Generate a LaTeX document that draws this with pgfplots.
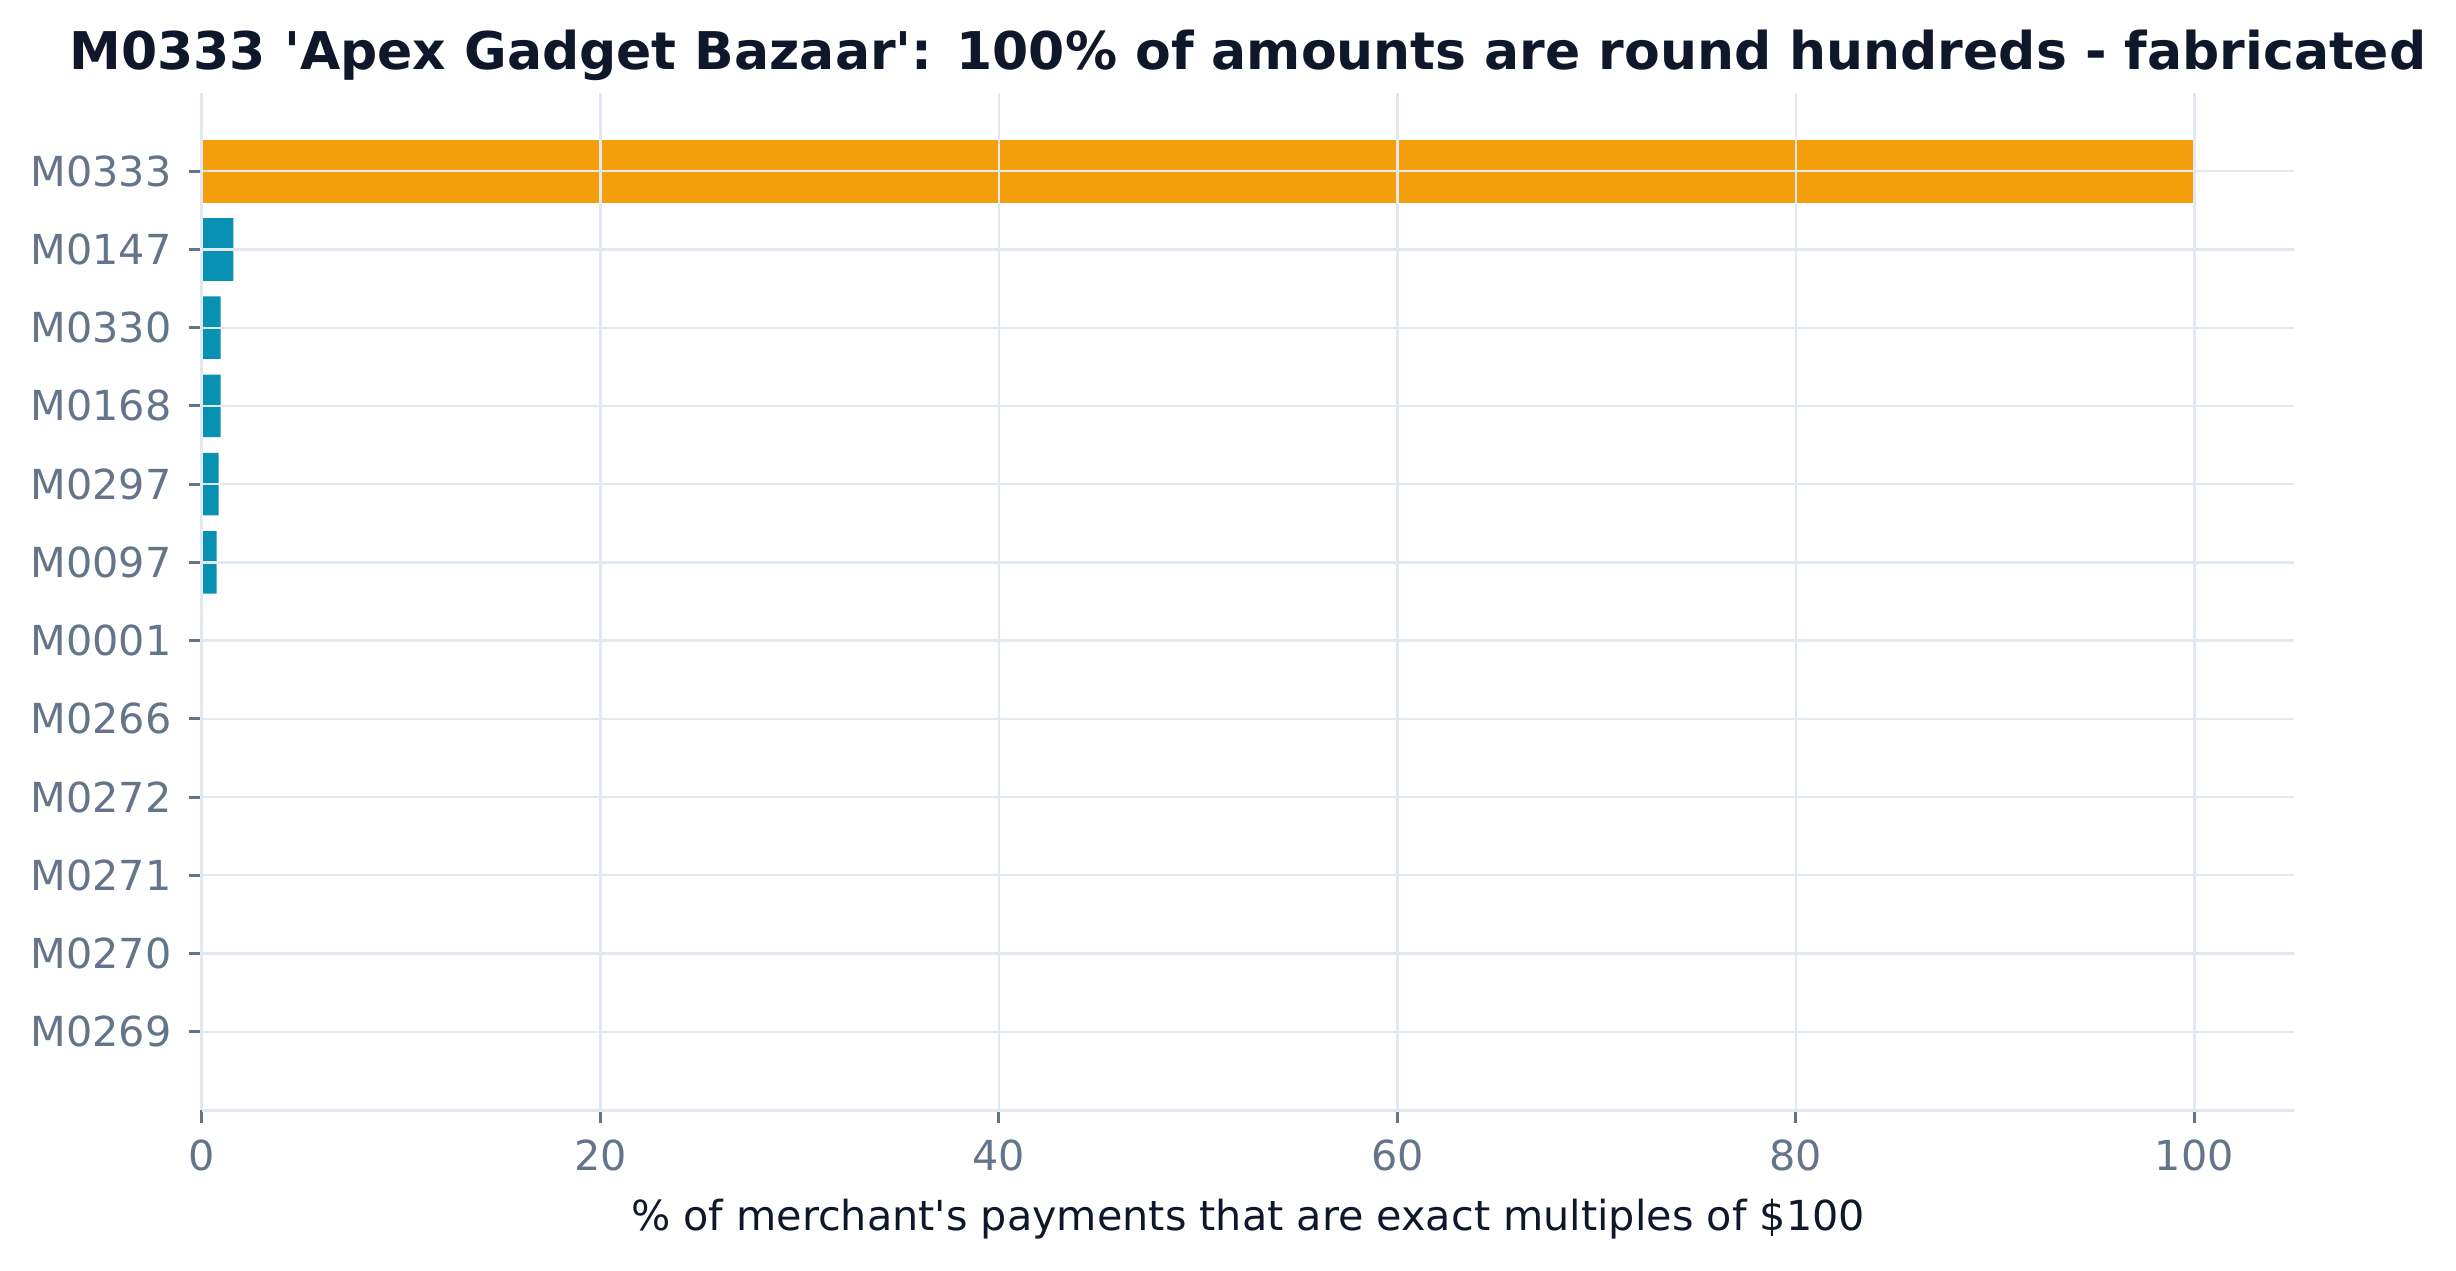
\documentclass[border=0pt]{standalone}
\usepackage{fontspec}
\setmainfont{DejaVu Sans}[Ligatures=TeXOff]
\usepackage{pgfplots}
\pgfplotsset{compat=1.18}

\definecolor{barorange}{HTML}{F59E0B}
\definecolor{barteal}{HTML}{0891B2}
\definecolor{ticktext}{HTML}{64748B}
\definecolor{darktext}{HTML}{0F172A}
\definecolor{gridline}{HTML}{E2E8F0}

\begin{document}
\begin{tikzpicture}
\path[use as bounding box] (-60.6pt,-48pt) rectangle (676.2pt,333pt);
\begin{axis}[
  at={(0,0)}, anchor=south west,
  scale only axis,
  width=627.6pt, height=305.1pt,
  xmin=0, xmax=105,
  ymin=-1, ymax=12,
  xtick={0,20,40,60,80,100},
  ytick={0,1,2,3,4,5,6,7,8,9,10,11},
  yticklabels={M0269,M0270,M0271,M0272,M0266,M0001,M0097,M0297,M0168,M0330,M0147,M0333},
  axis lines=left,
  axis line style={-, draw=gridline, line width=0.9pt},
  tick align=outside,
  major tick length=4pt,
  minor tick num=0,
  tick style={draw=ticktext, line width=0.9pt},
  grid=major,
  major grid style={draw=gridline, line width=0.7pt},
  axis on top,
  /pgf/number format/assume math mode=true,
  tick label style={font=\fontsize{12.4}{15}\selectfont, text=ticktext, inner sep=0pt},
  xticklabel style={anchor=base, yshift=-14.1pt},
  yticklabel style={anchor=east, xshift=-5pt},
  title={M0333 'Apex Gadget Bazaar': 100\% of amounts are round hundreds - fabricated},
  title style={at={(0.5,1)}, anchor=base, yshift=1pt, inner sep=0pt,
    font=\bfseries\fontsize{15.6}{18}\selectfont, text=darktext},
  xlabel={\% of merchant's payments that are exact multiples of \$100},
  xlabel style={at={(axis description cs:0.5,0)}, anchor=base, yshift=-36pt, inner sep=0pt,
    font=\fontsize{12.4}{15}\selectfont, text=darktext},
]
% flagged merchant
\addplot[xbar, bar width=0.8, bar shift=0pt, fill=barorange, draw=none]
  coordinates {(100,11)};
% other merchants
\addplot[xbar, bar width=0.8, bar shift=0pt, fill=barteal, draw=none]
  coordinates {(1.58,10) (0.93,9) (0.93,8) (0.83,7) (0.73,6) (0,5) (0,4) (0,3) (0,2) (0,1) (0,0)};
\end{axis}
\end{tikzpicture}
\end{document}
